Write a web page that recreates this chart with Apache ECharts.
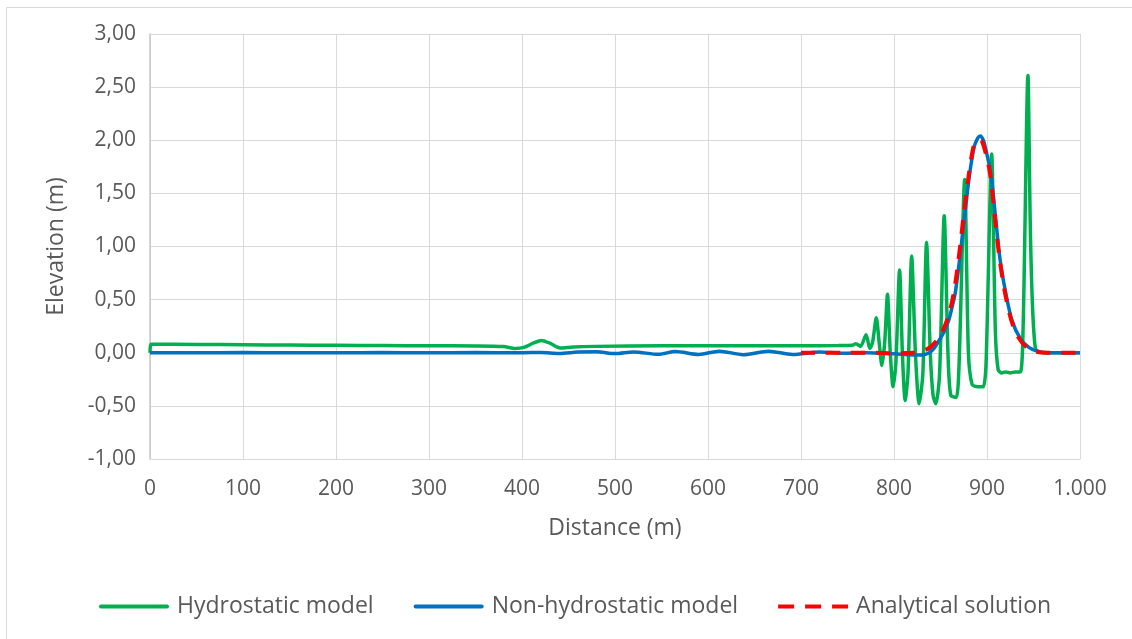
<!DOCTYPE html>
<html>
<head>
<meta charset="utf-8">
<script src="https://cdn.jsdelivr.net/npm/echarts@6/dist/echarts.min.js"></script>
<style>
html,body{margin:0;padding:0;background:#fff;}
#chart{width:1132px;height:639px;}
</style>
</head>
<body>
<div id="chart"></div>
<script>
// Series names
var seriesNames = ['Hydrostatic model', 'Non-hydrostatic model', 'Analytical solution'];

// Axis ticks
var xTicks = [0, 100, 200, 300, 400, 500, 600, 700, 800, 900, 1000];
var yTicks = [-1, -0.5, 0, 0.5, 1, 1.5, 2, 2.5, 3];

// Hydrostatic model: [distance (m), elevation (m)]
var hydrostatic = [
  [0,0.0],[1,0.08],[50,0.078],[100,0.075],[150,0.072],[200,0.07],[250,0.068],[300,0.066],
  [350,0.064],[380,0.058],[393,0.04],[402,0.05],[412,0.09],[421,0.116],[430,0.09],[441,0.045],
  [455,0.055],[480,0.06],[550,0.065],[650,0.065],[700,0.066],[740,0.068],[755,0.07],[759,0.085],
  [764,0.06],[770,0.17],[774,0.04],[777,0.1],[781,0.33],[784,0.1],[787,-0.12],[790,0.1],
  [793,0.55],[796,0.0],[799,-0.32],[802,-0.1],[806,0.78],[809,0.0],[812,-0.45],[815,-0.2],
  [819,0.91],[823,0.0],[827,-0.48],[831,-0.2],[835,1.04],[839,0.0],[842,-0.4],[845,-0.48],
  [849,-0.2],[854,1.29],[858,0.0],[861,-0.4],[867,-0.42],[870,-0.1],[876,1.63],[880,0.0],
  [884,-0.3],[890,-0.32],[896,-0.32],[899,-0.1],[905,1.87],[909,0.2],[912,-0.16],[916,-0.19],
  [920,-0.18],[925,-0.19],[930,-0.18],[936,-0.18],[939,0.3],[944,2.61],[947,1.0],[952,0.04],
  [962,0.0],[1000,0.0]
];

// Non-hydrostatic model
var nonHydrostatic = [
  [0,0],[50,0.0],[100,0.002],[150,0],[200,0.0],[250,0.002],[300,0.0],[350,0.002],[400,0.0],
  [420,0.003],[440,-0.006],[460,0.006],[480,0.01],[500,-0.008],[520,0.008],[547,-0.015],
  [565,0.012],[590,-0.016],[612,0.015],[638,-0.018],[665,0.015],[691,-0.016],[720,0.008],
  [745,-0.005],[770,0.0],[800,-0.01],[820,-0.02],[830,-0.02],[838,0.0],[843,0.04],[848,0.11],
  [854,0.2],[859,0.31],[863,0.45],[866,0.57],[871,0.91],[876,1.29],[881,1.66],[886,1.93],
  [890,2.02],[893,2.04],[896,2.0],[898,1.94],[904,1.69],[909,1.29],[914,0.88],[920,0.57],
  [927,0.3],[936,0.13],[945,0.05],[955,0.01],[965,0.0],[1000,0.0]
];

// Analytical solution
var analytical = [
  [700,0],[720,0.0],[750,0.0],[780,0.0],[800,-0.005],[820,0.0],[832,0.02],[840,0.06],
  [847,0.13],[853,0.22],[859,0.36],[864,0.55],[869,0.85],[875,1.3],[880,1.65],[885,1.92],
  [889,2.0],[893,2.0],[897,1.93],[903,1.7],[908,1.32],[913,0.92],[919,0.58],[926,0.31],
  [934,0.14],[943,0.05],[953,0.01],[965,0.0],[1000,0.0]
];

var chart = echarts.init(document.getElementById('chart'), null, {renderer: 'canvas'});
var txt = '#595959';
var font = '"Open Sans", sans-serif';
var solidIcon = 'path://M2,0H68A2,2 0 0 1 68,4H2A2,2 0 0 1 2,0Z';
var dashIcon = 'path://M0,0H16V4H0Z M27,0H43V4H27Z M54,0H70V4H54Z';

chart.setOption({
  animation: false,
  backgroundColor: '#fff',
  graphic: [{
    type: 'rect', left: 4, top: 5, silent: true, z: -10,
    shape: {width: 1140, height: 650},
    style: {fill: 'none', stroke: '#d9d9d9', lineWidth: 1}
  }],
  grid: {left: 150, right: 52, top: 34, bottom: 180},
  legend: {
    data: [
      {name: seriesNames[0], icon: solidIcon, itemStyle: {color: '#00b050'}},
      {name: seriesNames[1], icon: solidIcon, itemStyle: {color: '#0070c0'}},
      {name: seriesNames[2], icon: dashIcon, itemStyle: {color: '#ff0000'}}
    ],
    left: 94, top: 590,
    itemWidth: 70, itemHeight: 4, itemGap: 40,
    textStyle: {color: txt, fontSize: 23, fontFamily: font, padding: [0,0,0,3]}
  },
  xAxis: {
    type: 'value', min: xTicks[0], max: xTicks[xTicks.length-1], interval: 100,
    name: 'Distance (m)', nameLocation: 'middle', nameGap: 58,
    nameTextStyle: {color: txt, fontSize: 23, fontFamily: font},
    axisLine: {show: true, onZero: false, lineStyle: {color: '#d9d9d9', width: 1}},
    axisTick: {show: false},
    axisLabel: {color: txt, fontSize: 21, fontFamily: font, margin: 20,
      formatter: function (v) { return v >= 1000 ? String(v).replace(/\B(?=(\d{3})+(?!\d))/g, '.') : String(v); }},
    splitLine: {show: true, lineStyle: {color: '#d9d9d9', width: 1}}
  },
  yAxis: {
    type: 'value', min: yTicks[0], max: yTicks[yTicks.length-1], interval: 0.5,
    name: 'Elevation (m)', nameLocation: 'middle', nameGap: 82,
    nameTextStyle: {color: txt, fontSize: 23, fontFamily: font},
    axisLine: {show: true, lineStyle: {color: '#c8c8c8', width: 1.5}},
    axisTick: {show: false},
    axisLabel: {color: txt, fontSize: 21, fontFamily: font, margin: 14,
      formatter: function (v) { return v.toFixed(2).replace('.', ','); }},
    splitLine: {show: true, lineStyle: {color: '#d9d9d9', width: 1}}
  },
  series: [
    {name: seriesNames[0], type: 'line', data: hydrostatic, showSymbol: false, symbol: 'none',
     smooth: 0.25, color: '#00b050', lineStyle: {color: '#00b050', width: 3.5}, z: 2},
    {name: seriesNames[1], type: 'line', data: nonHydrostatic, showSymbol: false, symbol: 'none',
     smooth: 0.3, color: '#0070c0', lineStyle: {color: '#0070c0', width: 3.5}, z: 3},
    {name: seriesNames[2], type: 'line', data: analytical, showSymbol: false, symbol: 'none',
     smooth: 0.3, color: '#ff0000', lineStyle: {color: '#ff0000', width: 4, type: [14, 11]}, z: 4}
  ]
});
</script>
</body>
</html>
